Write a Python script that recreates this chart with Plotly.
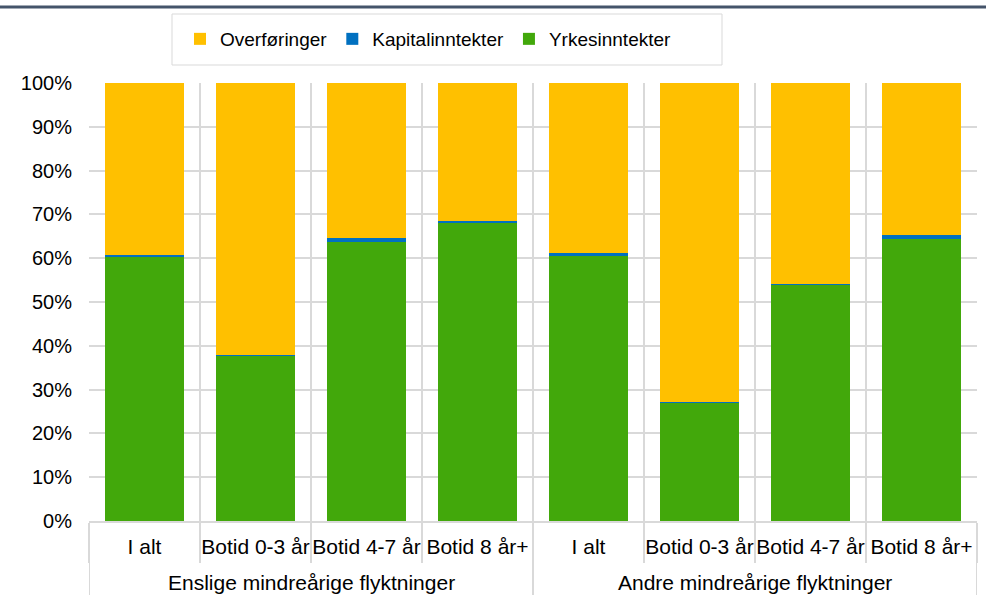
import plotly.graph_objects as go

groups = ["Enslige mindreårige flyktninger", "Andre mindreårige flyktninger"]
categories = ["I alt", "Botid 0-3 år", "Botid 4-7 år", "Botid 8 år+"] * 2
yrkes = [60.3, 37.7, 63.8, 68.0, 60.4, 27.0, 54.0, 64.4]
kapital = [0.5, 0.2, 0.7, 0.5, 0.9, 0.1, 0.2, 1.0]
overf = [round(100 - a - b, 1) for a, b in zip(yrkes, kapital)]
yticks = [0, 10, 20, 30, 40, 50, 60, 70, 80, 90, 100]
yticktext = [f"{v}%" for v in yticks]

FAM = "Liberation Sans, Arial, sans-serif"
GRID = "#d9d9d9"
n = len(categories)
xpos = [i + 0.5 for i in range(n)]
per_group = n // len(groups)

fig = go.Figure()
fig.add_trace(go.Bar(x=xpos, y=yrkes, name="Yrkesinntekter", width=0.71,
                     marker=dict(color="#42A80B", line=dict(width=0))))
fig.add_trace(go.Bar(x=xpos, y=kapital, name="Kapitalinntekter", width=0.71,
                     marker=dict(color="#0070C0", line=dict(width=0))))
fig.add_trace(go.Bar(x=xpos, y=overf, name="Overføringer", width=0.71,
                     marker=dict(color="#FFC000", line=dict(width=0))))

plot_w = 986 - 89 - 9
plot_h = 595 - 83 - 74
annotations = []
shapes = []
for gi, g in enumerate(groups):
    annotations.append(dict(text=g, x=gi * per_group + per_group / 2, xref="x",
                            y=-(61 / plot_h), yref="paper", showarrow=False,
                            xanchor="center", yanchor="middle",
                            font=dict(family=FAM, size=21, color="#000")))
for b in range(0, n + 1, per_group):
    shapes.append(dict(type="line", xref="x", yref="paper", x0=b, x1=b,
                       y0=0, y1=-(80 / plot_h), line=dict(color=GRID, width=2)))
shapes.append(dict(type="line", xref="paper", yref="paper", x0=-0.11, x1=1.02,
                   y0=1 + 76 / plot_h, y1=1 + 76 / plot_h,
                   line=dict(color="#44546A", width=3)))
# legend frame
shapes.append(dict(type="rect", xref="paper", yref="paper",
                   x0=(172 - 89) / plot_w, x1=(722 - 89) / plot_w,
                   y0=1 + (83 - 65) / plot_h, y1=1 + (83 - 14) / plot_h,
                   line=dict(color=GRID, width=1), fillcolor="rgba(0,0,0,0)"))

fig.update_layout(
    barmode="stack",
    width=986, height=595,
    margin=dict(l=89, r=9, t=83, b=74),
    paper_bgcolor="white", plot_bgcolor="white",
    font=dict(family=FAM, size=20, color="#000"),
    showlegend=True,
    legend=dict(orientation="h", traceorder="reversed", x=(180 - 89) / plot_w, xanchor="left",
                y=1 + (83 - 20) / plot_h, yanchor="top", borderwidth=0,
                bgcolor="rgba(0,0,0,0)", font=dict(family=FAM, size=19, color="#000")),
    xaxis=dict(range=[0, n], tickmode="array", tickvals=xpos, ticktext=categories,
               ticks="", showgrid=False, zeroline=False, ticklabelstandoff=6,
               tickfont=dict(family=FAM, size=21, color="#000"),
               showline=True, linecolor=GRID, linewidth=2,
               minor=dict(tickmode="linear", tick0=0, dtick=1, showgrid=True,
                          gridcolor=GRID, gridwidth=2, ticks="outside", ticklen=40,
                          tickcolor=GRID, tickwidth=2)),
    yaxis=dict(range=[0, 100], tickvals=yticks, ticktext=yticktext, showgrid=True,
               gridcolor=GRID, gridwidth=2, zeroline=False, ticks="",
               ticklabelstandoff=16, tickfont=dict(family=FAM, size=20, color="#000")),
    annotations=annotations,
    shapes=shapes,
)

fig.write_html("out.html", config={"displayModeBar": False},
               post_script="document.body.style.margin='0';")
